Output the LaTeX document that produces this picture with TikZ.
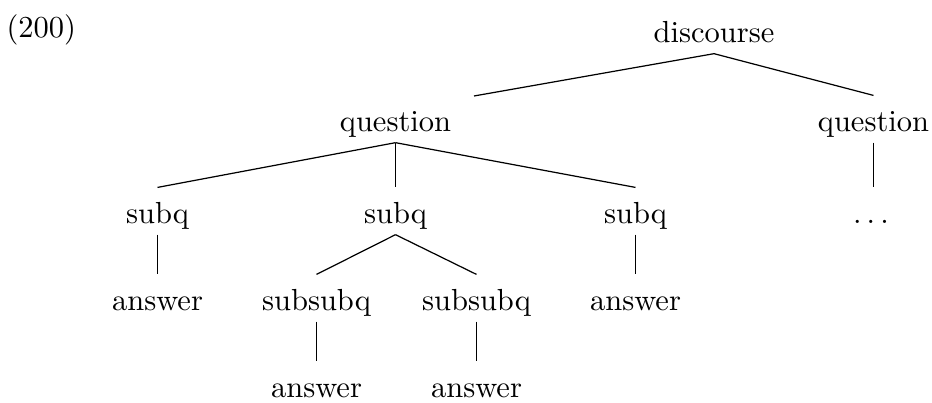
\documentclass[tikz,border=0pt]{standalone}
\begin{document}
\begin{tikzpicture}[x=0.328pt,y=-0.328pt,
  lbl/.style={anchor=base,inner sep=0pt,text height=11.8pt,text depth=3.3pt},
  edge/.style={draw,line width=0.4pt}]
\useasboundingbox (0,0) rectangle (932,403);
\node[anchor=base west,inner sep=0pt] (ex) at (6,37.5) {(200)};
\node[lbl] (d) at (714,43) {discourse};
\node[lbl] (q1) at (395.5,132) {question};
\node[lbl] (q2) at (873.5,132) {question};
\node[lbl] (s1) at (157.5,224) {subq};
\node[lbl] (s2) at (395.5,224) {subq};
\node[lbl] (s3) at (635.5,224) {subq};
\node[lbl] (dots) at (871,224) {$\ldots$};
\node[lbl] (a1) at (157.5,311) {answer};
\node[lbl] (ss1) at (316.5,311) {subsubq};
\node[lbl] (ss2) at (476.5,311) {subsubq};
\node[lbl] (a3) at (635.5,311) {answer};
\node[lbl] (a4) at (316.5,398) {answer};
\node[lbl] (a5) at (476.5,398) {answer};
\coordinate (q1end) at (474,96);
\path[edge] (d.south) -- (q1end);
\path[edge] (d.south) -- (q2.north);
\path[edge] (q2.south) -- (q2.south |- dots.north);
\path[edge] (q1.south) -- (s1.north);
\path[edge] (q1.south) -- (s2.north);
\path[edge] (q1.south) -- (s3.north);
\path[edge] (s1.south) -- (a1.north);
\path[edge] (s2.south) -- (ss1.north);
\path[edge] (s2.south) -- (ss2.north);
\path[edge] (s3.south) -- (a3.north);
\path[edge] (ss1.south) -- (a4.north);
\path[edge] (ss2.south) -- (a5.north);
\end{tikzpicture}
\end{document}
